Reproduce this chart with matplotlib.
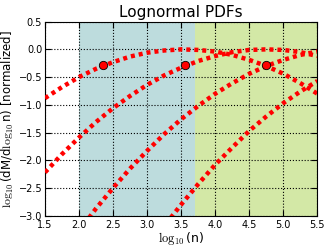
import numpy as np
import matplotlib.pyplot as plt

plt.rcParams['mathtext.fontset'] = 'cm'

# log10(n) sample positions
logn = [1.5, 1.75, 2.0, 2.25, 2.5, 2.75, 3.0, 3.25, 3.5, 3.75, 4.0,
        4.25, 4.5, 4.75, 5.0, 5.25, 5.5]

# normalized log10(dM/dlog10 n) for each lognormal
pdf1 = [-0.88, -0.68, -0.50, -0.35, -0.23, -0.13, -0.06, -0.02, 0.00, -0.01,
        -0.04, -0.10, -0.19, -0.30, -0.44, -0.61, -0.80]
pdf2 = [-2.22, -1.89, -1.59, -1.31, -1.06, -0.84, -0.64, -0.47, -0.33, -0.21,
        -0.12, -0.05, -0.01, 0.00, -0.01, -0.05, -0.12]
pdf3 = [-4.16, -3.70, -3.28, -2.87, -2.50, -2.15, -1.83, -1.53, -1.26, -1.02,
        -0.80, -0.61, -0.44, -0.30, -0.19, -0.10, -0.04]
pdf4 = [-6.70, -6.13, -5.57, -5.04, -4.54, -4.07, -3.62, -3.19, -2.80, -2.43,
        -2.08, -1.77, -1.47, -1.21, -0.97, -0.76, -0.57]

# marked points
mark_x = [2.35, 3.55, 4.75]
mark_y = [-0.28, -0.28, -0.28]

# shaded ranges
blue_span = (2.0, 3.7)
green_span = (3.7, 5.5)

fig = plt.figure(figsize=(3.32, 2.49), dpi=100)
ax = fig.add_axes([0.1355, 0.134, 0.8205, 0.779])

ax.axvspan(*blue_span, color='#bddcdd', zorder=0, lw=0)
ax.axvspan(*green_span, color='#d3e8a6', zorder=0, lw=0)

for pdf in [pdf1, pdf2, pdf3, pdf4]:
    ax.plot(logn, pdf, color='red', lw=3.2, ls=(0, (0.9, 0.9)), zorder=3)

ax.plot(mark_x, mark_y, 'o', color='red', mec='k', mew=0.6, ms=6, zorder=4)

ax.set_xlim(1.5, 5.5)
ax.set_ylim(-3.0, 0.5)
ax.set_xticks(np.arange(1.5, 5.51, 0.5))
ax.set_yticks(np.arange(-3.0, 0.51, 0.5))
ax.tick_params(direction='in', top=True, right=True, labelsize=7, length=4)
ax.tick_params(axis='x', pad=3)
ax.tick_params(axis='y', pad=2)
ax.grid(True, color='k', ls=':', lw=0.8)
ax.set_axisbelow(False)

ax.set_title('Lognormal PDFs', fontsize=11, pad=3)
ax.set_xlabel(r'$\log_{10}$(n)', fontsize=9, labelpad=0)
ax.set_ylabel(r'$\log_{10}$(dM/d$\log_{10}$n) [normalized]', fontsize=8.5, labelpad=2)

fig.savefig('out.png', dpi=100)
